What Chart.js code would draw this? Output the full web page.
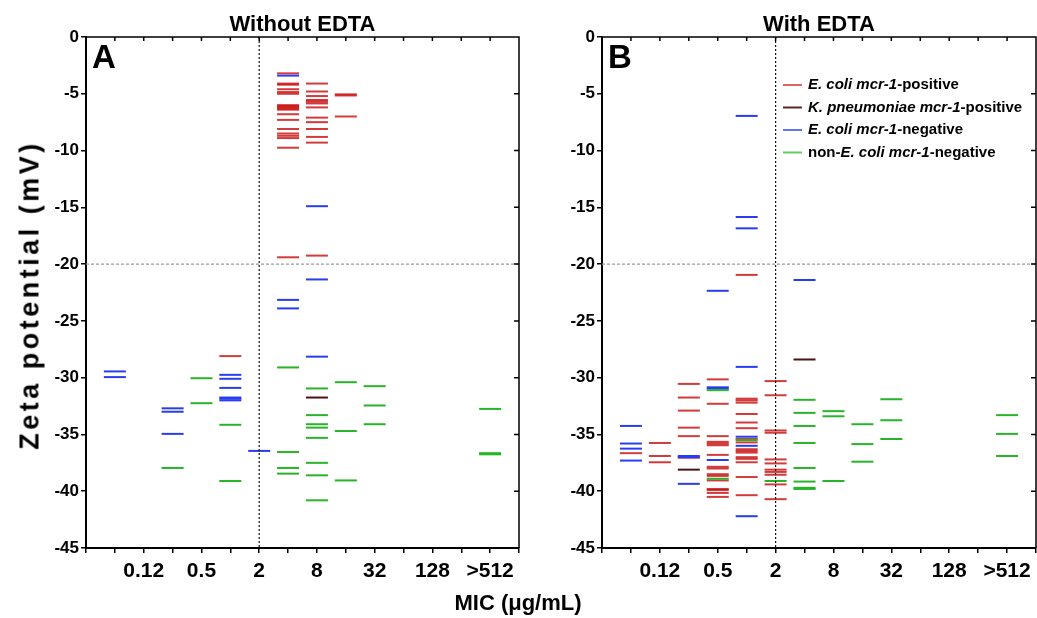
<!doctype html>
<html>
<head>
	<title>Zeta potential vs MIC</title>
	<script src="https://cdn.jsdelivr.net/npm/chart.js@4/dist/chart.umd.min.js"></script>
	<style>
		body { margin: 0; background: #fff; font-family: "Liberation Sans", Arial, sans-serif; }
		#wrap { position: relative; width: 1037px; height: 618px; overflow: hidden; }
		#wrapA { position: absolute; left: 0; top: 0; width: 522px; height: 618px; }
		#wrapB { position: absolute; left: 522px; top: 0; width: 515px; height: 618px; }
		#ytitle { position: absolute; left: 30px; top: 295px; transform: translate(-50%, -50%) rotate(-90deg);
			font-weight: bold; font-size: 27px; letter-spacing: 3.5px; white-space: nowrap; }
		#xtitle { position: absolute; left: 518px; top: 603px; transform: translate(-50%, -50%);
			font-weight: bold; font-size: 22px; white-space: nowrap; }
	</style>
</head>
<body>
	<div id="wrap">
		<div id="wrapA"><canvas id="chartA"></canvas></div>
		<div id="wrapB"><canvas id="chartB"></canvas></div>
		<div id="ytitle">Zeta potential (mV)</div>
		<div id="xtitle">MIC (μg/mL)</div>
	</div>
	<script>
		// MIC categories along x (index = position on axis)
		var micCats = ['', '0.06', '0.12', '0.25', '0.5', '1', '2', '4', '8', '16', '32', '64', '128', '256', '>512'];
		var micTicks = ['0.12', '0.5', '2', '8', '32', '128', '>512'];
		var breakpointMic = '2';
		var zetaCutoff = -20;

		// A: without EDTA
		var aEcoliPos = {
			'1': [-28.1],
			'4': [-3.2, -4.1, -4.2, -4.6, -4.85, -5.0, -6.0, -6.1, -6.2, -6.3, -6.4, -6.8, -7.3, -8.1, -8.5, -8.7, -8.9, -9.75, -19.4],
			'8': [-4.1, -4.8, -5.2, -5.55, -5.7, -5.85, -6.2, -7.1, -7.5, -8.1, -8.8, -9.3, -19.25],
			'16': [-5.05, -5.15, -7.0]
		};
		var aKpnPos = { '8': [-31.75] };
		var aEcoliNeg = {
			'0.06': [-29.45, -29.95],
			'0.25': [-32.7, -33.0, -34.95],
			'1': [-29.75, -30.1, -30.9, -31.75, -31.85, -32.0],
			'2': [-36.45],
			'4': [-3.4, -23.15, -23.9],
			'8': [-14.9, -21.35, -28.15]
		};
		var aOtherNeg = {
			'0.25': [-37.95],
			'0.5': [-30.05, -32.25],
			'1': [-34.15, -39.1],
			'4': [-29.1, -36.55, -37.95, -38.45],
			'8': [-30.95, -33.3, -34.1, -34.4, -35.3, -37.5, -38.6, -40.8],
			'16': [-30.4, -34.7, -39.05],
			'32': [-30.75, -32.45, -34.1],
			'>512': [-32.75, -36.65, -36.75]
		};

		// B: with EDTA
		var bEcoliPos = {
			'0.06': [-36.65],
			'0.12': [-35.75, -36.9, -37.45],
			'0.25': [-30.55, -31.75, -32.9, -34.4, -35.15, -37.05],
			'0.5': [-30.15, -32.3, -35.15, -35.65, -35.8, -35.95, -36.8, -37.85, -38.0, -38.5, -38.65, -39.05, -39.8, -39.9, -40.15, -40.5],
			'1': [-20.95, -31.85, -32.0, -32.2, -33.2, -33.95, -34.45, -35.4, -35.7, -36.3, -36.45, -36.6, -37.0, -37.15, -37.45, -38.75, -40.35],
			'2': [-30.3, -31.55, -34.65, -34.85, -37.2, -37.55, -38.1, -38.3, -38.55, -39.4, -40.7]
		};
		var bKpnPos = { '0.25': [-38.1], '4': [-28.4] };
		var bEcoliNeg = {
			'0.06': [-34.25, -35.8, -36.25, -37.3],
			'0.25': [-36.9, -37.0, -39.35],
			'0.5': [-22.35, -30.85, -30.95, -37.25],
			'1': [-6.95, -15.85, -16.85, -29.05, -35.2, -36.0, -42.2],
			'4': [-21.4]
		};
		var bOtherNeg = {
			'0.5': [-31.1, -38.9],
			'1': [-35.5],
			'2': [-39.1],
			'4': [-31.95, -33.1, -34.25, -35.75, -37.95, -39.15, -39.7, -39.8],
			'8': [-32.95, -33.4, -39.1],
			'16': [-34.1, -35.85, -37.4],
			'32': [-31.9, -33.75, -35.4],
			'>512': [-33.3, -34.95, -36.9]
		};

		var colors = {
			ecoliPos: 'rgba(200,10,10,0.8)',
			kpnPos: '#4a1212',
			ecoliNeg: 'rgb(40,60,240)',
			otherNeg: 'rgb(40,180,40)'
		};
		var legendColors = ['#e06464', '#5a2424', '#6478ee', '#66cc66'];
		var legendRows = [
			[['E. coli mcr-1', true], ['-positive', false]],
			[['K. pneumoniae mcr-1', true], ['-positive', false]],
			[['E. coli mcr-1', true], ['-negative', false]],
			[['non-', false], ['E. coli mcr-1', true], ['-negative', false]]
		];

		function toPoints(obj) {
			var pts = [];
			Object.keys(obj).forEach(function(mic) {
				obj[mic].forEach(function(v) {
					pts.push({ x: micCats.indexOf(mic), y: v });
				});
			});
			return pts;
		}

		function markSet(obj, color) {
			return {
				type: 'scatter',
				data: toPoints(obj),
				pointStyle: 'line',
				pointRadius: 11,
				pointHoverRadius: 11,
				borderColor: color,
				backgroundColor: color,
				borderWidth: 2
			};
		}

		function refLines() {
			var bx = micCats.indexOf(breakpointMic);
			return [{
				type: 'line',
				data: [{ x: 0, y: zetaCutoff }, { x: 15, y: zetaCutoff }],
				borderColor: '#9a9a9a',
				borderWidth: 1.3,
				borderDash: [3, 2],
				pointRadius: 0
			}, {
				type: 'line',
				data: [{ x: bx, y: 0 }, { x: bx, y: -45 }],
				borderColor: '#111',
				borderWidth: 1.2,
				borderDash: [2, 2],
				pointRadius: 0
			}];
		}

		// frame on top/right with inward ticks, panel letter, panel title, optional legend
		var decor = {
			id: 'decor',
			afterDraw: function(chart, args, opts) {
				var ctx = chart.ctx;
				var a = chart.chartArea;
				var xs = chart.scales.x, ys = chart.scales.y;
				ctx.save();
				ctx.strokeStyle = '#000';
				ctx.lineWidth = 1.5;
				ctx.beginPath();
				ctx.moveTo(a.left, a.top);
				ctx.lineTo(a.right, a.top);
				ctx.lineTo(a.right, a.bottom);
				for (var i = 1; i < 15; i++) {
					var px = xs.getPixelForValue(i);
					ctx.moveTo(px, a.top);
					ctx.lineTo(px, a.top + 4);
				}
				for (var v = -5; v > -45; v -= 5) {
					var py = ys.getPixelForValue(v);
					ctx.moveTo(a.right, py);
					ctx.lineTo(a.right - 5, py);
				}
				ctx.stroke();

				ctx.fillStyle = '#000';
				ctx.font = 'bold 33px "Liberation Sans", Arial';
				ctx.textBaseline = 'top';
				ctx.textAlign = 'left';
				ctx.fillText(opts.letter, a.left + 6, a.top + 5);

				ctx.font = 'bold 22px "Liberation Sans", Arial';
				ctx.textAlign = 'center';
				ctx.textBaseline = 'middle';
				ctx.fillText(opts.title, (a.left + a.right) / 2, 25);

				if (opts.legend) {
					ctx.textAlign = 'left';
					legendRows.forEach(function(row, r) {
						var y = a.top + 48 + r * 22.5;
						ctx.strokeStyle = legendColors[r];
						ctx.lineWidth = 2;
						ctx.beginPath();
						ctx.moveTo(a.left + 181, y);
						ctx.lineTo(a.left + 200, y);
						ctx.stroke();
						var x = a.left + 206;
						row.forEach(function(seg) {
							ctx.font = (seg[1] ? 'italic ' : '') + 'bold 15px "Liberation Sans", Arial';
							ctx.fillText(seg[0], x, y);
							x += ctx.measureText(seg[0]).width;
						});
					});
				}
				ctx.restore();
			}
		};

		function config(sets, letter, title, yWidth, padRight, legend) {
			return {
				data: {
					datasets: refLines().concat([
						markSet(sets[3], colors.otherNeg),
						markSet(sets[2], colors.ecoliNeg),
						markSet(sets[0], colors.ecoliPos),
						markSet(sets[1], colors.kpnPos)
					])
				},
				options: {
					responsive: true,
					maintainAspectRatio: false,
					animation: false,
					events: [],
					layout: { autoPadding: false, padding: { top: 37, right: padRight, left: 0, bottom: 0 } },
					plugins: {
						legend: { display: false },
						title: { display: false },
						tooltip: { enabled: false },
						decor: { letter: letter, title: title, legend: legend }
					},
					scales: {
						x: {
							type: 'linear',
							min: 0,
							max: 15,
							afterFit: function(scale) {
								scale.height = 70;
								scale.paddingLeft = 0;
								scale.paddingRight = 0;
							},
							afterBuildTicks: function(scale) {
								var t = [];
								for (var i = 0; i <= 15; i++) t.push({ value: i });
								scale.ticks = t;
							},
							ticks: {
								autoSkip: false,
								maxRotation: 0,
								padding: 6,
								color: '#000',
								font: { family: '"Liberation Sans", Arial', size: 21, weight: 'bold' },
								callback: function(v) {
									var lab = micCats[v];
									return micTicks.indexOf(lab) >= 0 ? lab : '';
								}
							},
							grid: { drawOnChartArea: false, drawTicks: true, tickLength: 5, color: '#000', lineWidth: 1.5 },
							border: { color: '#000', width: 2 }
						},
						y: {
							min: -45,
							max: 0,
							afterFit: function(scale) { scale.width = yWidth; },
							ticks: {
								stepSize: 5,
								padding: 2,
								color: '#000',
								font: { family: '"Liberation Sans", Arial', size: 17, weight: 'bold' }
							},
							grid: { drawOnChartArea: false, drawTicks: true, tickLength: 5, color: '#000', lineWidth: 1.5 },
							border: { color: '#000', width: 2 }
						}
					}
				},
				plugins: [decor]
			};
		}

		new Chart('chartA', config([aEcoliPos, aKpnPos, aEcoliNeg, aOtherNeg], 'A', 'Without EDTA', 86, 3, false));
		new Chart('chartB', config([bEcoliPos, bKpnPos, bEcoliNeg, bOtherNeg], 'B', 'With EDTA', 80, 1, true));
	</script>
</body>
</html>
